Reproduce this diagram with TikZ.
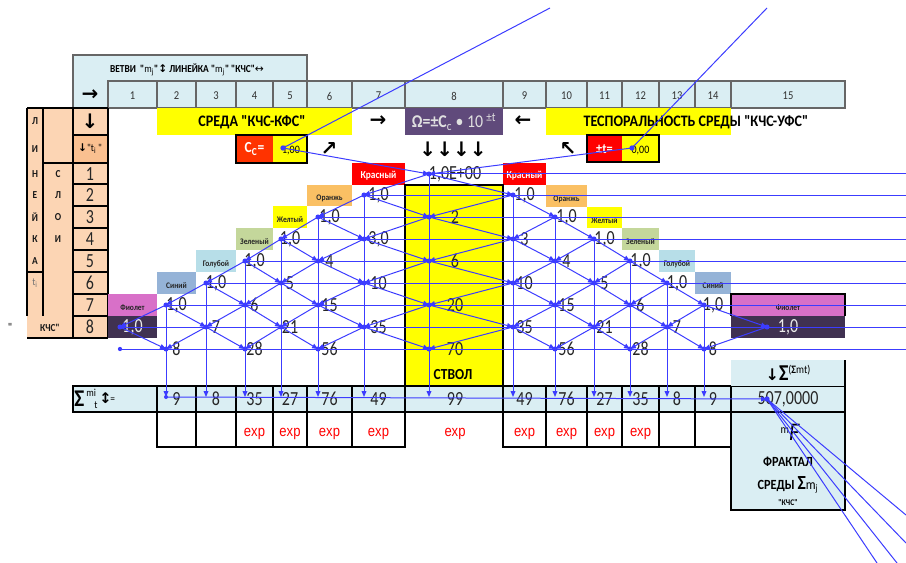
\documentclass[tikz,border=0pt]{standalone}
\usepackage{fontspec}
\setmainfont{Carlito}[FakeStretch=0.88,Ligatures=TeXOff]
\newfontfamily\numf{Carlito}[FakeStretch=0.8,Ligatures=TeXOff]
\newfontfamily\arrf{DejaVu Sans}[Ligatures=TeXOff]
\newfontfamily\arl{Liberation Sans}[FakeStretch=0.85,Ligatures=TeXOff]
\usetikzlibrary{arrows.meta}
\definecolor{lblue}{HTML}{DAEEF3}
\definecolor{peach}{HTML}{FCD5B4}
\definecolor{peachd}{HTML}{FAC090}
\definecolor{ylw}{HTML}{FFFF00}
\definecolor{omega}{HTML}{604A7B}
\definecolor{ccred}{HTML}{FF3300}
\definecolor{xred}{HTML}{FF0000}
\definecolor{orng}{HTML}{FAC064}
\definecolor{grn}{HTML}{C4D79B}
\definecolor{cyanl}{HTML}{B7DEE8}
\definecolor{blu}{HTML}{95B3D7}
\definecolor{viol}{HTML}{D870C8}
\definecolor{dviol}{HTML}{403151}
\definecolor{trace}{HTML}{3C3CFF}
\def\PXA{{0,120,166,206,245,281,318,364,429,513,555,594,630,667,704,767}}
\def\CXA{{0,132.5,176.5,216,254.5,290,329.5,378.5,455,524.5,566.5,604.5,640.5,677,713,788}}
\def\RYA{{0,174,195,217,239,261,283,305,327,349}}
\def\colsA{1/108/157,2/157/196,3/196/236,4/236/273,5/273/307,6/307/352,7/352/405,8/405/503,9/503/546,10/546/587,11/587/622,12/622/659,13/659/695,14/695/731,15/731/845}
\def\colsB{2/157/196,3/196/236,4/236/273,5/273/307,6/307/352,7/352/405,8/405/503,9/503/546,10/546/587,11/587/622,12/622/659,13/659/695,14/695/731,15/731/845}
\begin{document}
\begin{tikzpicture}[x=0.75pt,y=-0.75pt,
  hline/.style={draw=black!60,line width=0.9pt},
  blk/.style={draw=black,line width=0.9pt},
  hnum/.style={font=\fontsize{9}{9}\selectfont,text=black!80,inner sep=0},
  bignum/.style={font=\numf\fontsize{15}{15}\selectfont,text=black!85,inner sep=0},
  wnum/.style={font=\numf\fontsize{15}{15}\selectfont,text=white!92!black,inner sep=0},
  lab/.style={font=\bfseries\fontsize{6.4}{7}\selectfont,text=black!85,inner sep=0},
  wlab/.style={font=\bfseries\fontsize{8}{8}\selectfont,text=white,inner sep=0},
  letter/.style={font=\bfseries\fontsize{8}{8}\selectfont,text=black!90,inner sep=0},
  title/.style={font=\bfseries\fontsize{12}{12}\selectfont,text=black,inner sep=0},
  arrw/.style={font=\arrf\bfseries\fontsize{15}{15}\selectfont,text=black,inner sep=0},
  expt/.style={font=\arl\fontsize{11.5}{11.5}\selectfont,text=xred,inner sep=0},
  tr/.style={draw=trace,line width=0.75pt,-{Triangle[length=4.5pt,width=3.6pt]}},
  trl/.style={draw=trace,line width=0.75pt},
  dot/.style={fill=trace}]
\useasboundingbox (0,0) rectangle (906,563);

% ---------- header band ----------
\fill[lblue] (73,55) rectangle (307,81);
\fill[lblue] (73,81) rectangle (845,108);
\draw[hline] (73,108) -- (73,55) -- (307,55) -- (307,81);
\foreach \i/\xa/\xb in \colsA {
  \draw[hline] (\xa,81) rectangle (\xb,108);
  \node[hnum] (h\i) at ({(\xa+\xb)/2},96) {\i};
}
\node[font=\bfseries\fontsize{8}{8}\selectfont,inner sep=0] (vetvi) at (187,70)
  {ВЕТВИ \ "{\mdseries m\textsubscript{j}}"{\arrf ↕} ЛИНЕЙКА "{\mdseries m\textsubscript{j}}" "КЧС"{\arrf\mdseries ↔}};
\node[arrw] (hdrarrow) at (90,95) {→};

% ---------- left table ----------
\fill[peach] (27,108) rectangle (108,338);
\fill[peachd] (73,135) rectangle (108,163);
\draw[blk] (27,108) -- (108,108);
\draw[blk] (27,108) -- (27,316);
\draw[blk] (43,108) -- (43,316);
\draw[blk] (73,108) -- (73,338);
\draw[blk] (108,108) -- (108,338);
\draw[blk] (27,338) -- (108,338);
\draw[blk] (27,272) -- (43,272);
\draw[blk] (43,163) -- (73,163);
\foreach \yy in {135,163,184,206,228,250,272,294,316} \draw[blk] (73,\yy) -- (108,\yy);
\node[letter] (la1) at (35,121) {Л};
\node[letter] (la2) at (35,149) {И};
\node[letter] (la3) at (35,174) {Н};
\node[letter] (la4) at (35,195) {Е};
\node[letter] (la5) at (35,217) {Й};
\node[letter] (la6) at (35,239) {К};
\node[letter] (la7) at (35,261) {А};
\node[font=\fontsize{8}{8}\selectfont,text=black!55,inner sep=0] (la8) at (35,283) {t\textsubscript{i}};
\node[letter] (lb1) at (58,174) {С};
\node[letter] (lb2) at (58,195) {Л};
\node[letter] (lb3) at (58,217) {О};
\node[letter] (lb4) at (58,239) {И};
\node[letter] (kchs) at (50,328) {КЧС"};
\node[font=\fontsize{9}{9}\selectfont,inner sep=0] (stray) at (10,327) {"};
\node[arrw] (ldown) at (90,121) {↓};
\node[font=\fontsize{8}{8}\selectfont,inner sep=0] (lti) at (90,149) {{\arrf\bfseries ↓}"t\textsubscript{i}\,"};
\foreach \k in {1,...,8} {
  \pgfmathsetmacro\yy{\RYA[\k]}
  \node[bignum] (ln\k) at (90,\yy) {\k};
}

% ---------- title row ----------
\fill[ylw] (157,108) rectangle (352,135);
\node[title] (sreda) at (252,122) {СРЕДА "КЧС-КФС"};
\node[arrw] (tarr1) at (378,121) {→};
\fill[omega] (405,108) rectangle (503,135);
\node[font=\fontsize{13.5}{13.5}\selectfont,text=white!88!black,inner sep=0] (omg) at (454,122)
  {{\bfseries Ω=±C}\textsubscript{c} • 10\,\textsuperscript{±t}};
\node[arrw] (tarr2) at (523,121) {←};
\fill[ylw] (546,108) rectangle (731,135);
\node[title] (tesp) at (696,122) {ТЕСПОРАЛЬНОСТЬ СРЕДЫ "КЧС-УФС"};

% ---------- parameter row ----------
\fill[ccred] (236,135) rectangle (273,163);
\fill[ylw] (273,135) rectangle (307,163);
\draw[blk] (236,135) rectangle (307,163);
\node[font=\bfseries\fontsize{11.5}{11.5}\selectfont,text=white,inner sep=0] (cclab) at (254.5,149) {C\textsubscript{C}=};
\node[font=\fontsize{8.5}{8.5}\selectfont,inner sep=0] (ccval) at (291,151) {1,00};
\node[arrw] (parr1) at (329,149) {↗};
\node[arrw] (parr2) at (453,149) {↓↓↓↓};
\node[arrw] (parr3) at (568,149) {↖};
\fill[xred] (587,135) rectangle (622,162);
\fill[ylw] (622,135) rectangle (659,162);
\draw[blk] (587,135) rectangle (659,162);
\node[font=\bfseries\fontsize{10.5}{10.5}\selectfont,text=white,inner sep=0] (ptlab) at (604.5,149) {±t=};
\node[font=\fontsize{8.5}{8.5}\selectfont,inner sep=0] (ptval) at (640.5,151) {0,00};

% ---------- colour labels ----------
\fill[xred] (352,163) rectangle (405,185);
\node[wlab] (kr1) at (378.5,176) {Красный};
\fill[xred] (503,163) rectangle (546,185);
\node[wlab] (kr2) at (524.5,176) {Красный};
\foreach \k/\xa/\ya/\xb/\yb/\cl/\tx in {
  1/307/185/352/206/orng/Оранжь, 2/273/206/307/228/ylw/Желтый, 3/236/228/273/250/grn/Зеленый,
  4/196/250/236/272/cyanl/Голубой, 5/157/272/196/294/blu/Синий, 6/108/294/157/316/viol/Фиолет,
  7/546/185/587/207/orng/Оранжь, 8/587/207/622/228/ylw/Желтый, 9/622/228/659/250/grn/Зеленый,
  10/659/250/695/272/cyanl/Голубой, 11/695/272/731/294/blu/Синий, 12/731/294/845/316/viol/Фиолет} {
  \fill[\cl] (\xa,\ya) rectangle (\xb,\yb);
  \node[lab] (cl\k) at ({(\xa+\xb)/2},{(\ya+\yb)/2+3}) {\tx};
}
\draw[blk] (731,316) -- (731,294) -- (845,294) -- (845,316);
\fill[dviol] (108,316) rectangle (157,338);
\fill[dviol] (731,316) rectangle (845,338);

% ---------- stem ----------
\fill[ylw] (405,185) rectangle (503,386);
\draw[blk] (405,386) -- (405,185) -- (503,185) -- (503,386);
\node[font=\bfseries\fontsize{11.5}{11.5}\selectfont,inner sep=0] (stvol) at (453,375) {СТВОЛ};

% ---------- sum row ----------
\fill[lblue] (73,386) rectangle (845,412);
\draw[blk] (73,386) rectangle (157,412);
\foreach \i/\xa/\xb in \colsB { \draw[blk] (\xa,386) rectangle (\xb,412); }
\node[anchor=west,inner sep=0,font=\bfseries\fontsize{18}{18}\selectfont] (sumsig) at (74,399) {Σ};
\node[anchor=south west,inner sep=0,font=\fontsize{8}{8}\selectfont] (summi) at (86,397) {mi};
\node[anchor=north west,inner sep=0,font=\fontsize{8}{8}\selectfont] (sumt) at (94,401) {t};
\node[anchor=west,inner sep=0,font=\arrf\bfseries\fontsize{11}{11}\selectfont] (sumarr) at (99,398) {↕};
\node[anchor=west,inner sep=0,font=\fontsize{8}{8}\selectfont] (sumeq) at (110,400) {=};
\foreach \i/\v in {2/9,3/8,4/35,5/27,6/76,7/49,8/99,9/49,10/76,11/27,12/35,13/8,14/9} {
  \pgfmathsetmacro\xx{\CXA[\i]}
  \node[bignum] (sv\i) at (\xx,399) {\v};
}
\node[bignum] (total) at (788,399) {507,0000};

% ---------- exp row ----------
\foreach \i/\xa/\xb in {2/157/196,3/196/236,4/236/273,5/273/307,6/307/352,7/352/405,9/503/546,10/546/587,11/587/622,12/622/659,13/659/695,14/695/731} {
  \draw[blk] (\xa,412) rectangle (\xb,447);
}
\foreach \i in {4,5,6,7,8,9,10,11,12} {
  \pgfmathsetmacro\xx{\CXA[\i]}
  \node[expt] (ex\i) at (\xx,434) {exp};
}

% ---------- right column ----------
\fill[lblue] (731,360) rectangle (845,386);
\draw[blk] (845,360) -- (845,386);
\node[inner sep=0] (sigsig) at (788,373)
  {{\arrf\bfseries\fontsize{12}{12}\selectfont ↓}{\fontsize{17}{17}\selectfont\bfseries Σ}\raisebox{5pt}{\fontsize{8.5}{8.5}\selectfont(\textbf{Σ}mt)}};
\fill[lblue] (731,412) rectangle (845,510);
\draw[blk] (731,412) rectangle (845,510);
\draw[blk] (503,447) -- (731,447);
\node[inner sep=0] (fF) at (790,432)
  {\raisebox{5pt}{\fontsize{9}{9}\selectfont m}{\fontsize{19}{19}\selectfont\itshape F}};
\node[font=\bfseries\fontsize{10.5}{10.5}\selectfont,inner sep=0] (frakt) at (788,462) {ФРАКТАЛ};
\node[font=\bfseries\fontsize{10.5}{10.5}\selectfont,inner sep=0] (sredy) at (788,485)
  {СРЕДЫ {\fontsize{15}{15}\selectfont Σ}{\mdseries m\textsubscript{j}}};
\node[font=\bfseries\fontsize{6.5}{6.5}\selectfont,inner sep=0] (kchs2) at (788,503) {"КЧС"};

% ---------- lattice numbers ----------
\foreach \ci/\ri/\v in {8/1/{1,0E+00},
  7/2/{1,0},9/2/{1,0},
  6/3/{1,0},8/3/2,10/3/{1,0},
  5/4/{1,0},7/4/{3,0},9/4/3,11/4/{1,0},
  4/5/{1,0},6/5/4,8/5/6,10/5/4,12/5/{1,0},
  3/6/{1,0},5/6/5,7/6/10,9/6/10,11/6/5,13/6/{1,0},
  2/7/{1,0},4/7/6,6/7/15,8/7/20,10/7/15,12/7/6,14/7/{1,0},
  3/8/7,5/8/21,7/8/35,9/8/35,11/8/21,13/8/7,
  2/9/8,4/9/28,6/9/56,8/9/70,10/9/56,12/9/28,14/9/8} {
  \pgfmathsetmacro\xx{\CXA[\ci]}
  \pgfmathsetmacro\yy{\RYA[\ri]}
  \node[bignum] (v\ci-\ri) at (\xx,\yy) {\v};
}
\node[wnum] (v1-8) at (132.5,327) {1,0};
\node[wnum] (v15-8) at (788,327) {1,0};

% ---------- trace coordinates ----------
\foreach \ci in {1,...,15} {
  \foreach \ri in {1,...,9} {
    \pgfmathsetmacro\xx{\PXA[\ci]}
    \pgfmathsetmacro\yy{\RYA[\ri]}
    \coordinate (n\ci-\ri) at (\xx,\yy);
  }
  \pgfmathsetmacro\xx{\PXA[\ci]}
  \coordinate (s\ci) at (\xx,397);
}
\coordinate (tot) at (767,399);
\coordinate (cc) at (283,148);
\coordinate (pt) at (632,148);
\coordinate (ccout) at (550,8);
\coordinate (ptout) at (767,8);
\coordinate (f1) at (906,515);
\coordinate (f2) at (906,543);
\coordinate (f3) at (897,563);
\coordinate (f4) at (877,563);

% ---------- trace arrows ----------
\foreach \ri in {1,...,8} {
  \pgfmathtruncatemacro\lc{9-\ri}
  \pgfmathsetmacro\yy{\RYA[\ri]}
  \coordinate (e\ri) at (906,\yy);
  \draw[trl] (n\lc-\ri) -- (e\ri);
}
\coordinate (e9) at (906,349);
\draw[trl] (n1-9) -- (e9);
\foreach \ri in {2,...,9} {
  \foreach \ci in {1,...,15} {
    \pgfmathtruncatemacro\ok{(abs(\ci-8)<=\ri-1)&&(mod(\ci+\ri,2)==1)}
    \ifnum\ok=1
      \pgfmathtruncatemacro\pr{\ri-1}
      \pgfmathtruncatemacro\lc{\ci-1}
      \pgfmathtruncatemacro\rc{\ci+1}
      \pgfmathtruncatemacro\okl{(\lc>=1)&&(abs(\lc-8)<=\pr-1)}
      \pgfmathtruncatemacro\okr{(\rc<=15)&&(abs(\rc-8)<=\pr-1)}
      \ifnum\okl=1 \draw[tr] (n\lc-\pr) -- (n\ci-\ri); \fi
      \ifnum\okr=1 \draw[tr] (n\rc-\pr) -- (n\ci-\ri); \fi
    \fi
  }
}
\foreach \ci in {2,...,14} {
  \pgfmathtruncatemacro\tp{abs(\ci-8)+1}
  \draw[tr] (n\ci-\tp) -- (s\ci);
}
\draw[tr] (s2) -- (tot);
\draw[tr] (cc) -- (n8-1);
\draw[tr] (pt) -- (n8-1);
\draw[trl] (cc) -- (ccout);
\draw[trl] (pt) -- (ptout);
\foreach \f in {f1,f2,f3,f4} \draw[trl] (tot) -- (\f);

% ---------- dots ----------
\foreach \ri in {1,...,9} {
  \foreach \ci in {1,...,15} {
    \pgfmathtruncatemacro\ok{(abs(\ci-8)<=\ri-1)&&(mod(\ci+\ri,2)==1)}
    \ifnum\ok=1 \fill[dot] (n\ci-\ri) circle[radius=1.9pt]; \fi
  }
}
\fill[dot] (n1-9) circle[radius=1.6pt];
\fill[dot] (s2) circle[radius=1.5pt];
\fill[dot] (tot) circle[radius=2pt];
\fill[dot] (cc) circle[radius=2pt];
\fill[dot] (pt) circle[radius=2pt];
\end{tikzpicture}
\end{document}
